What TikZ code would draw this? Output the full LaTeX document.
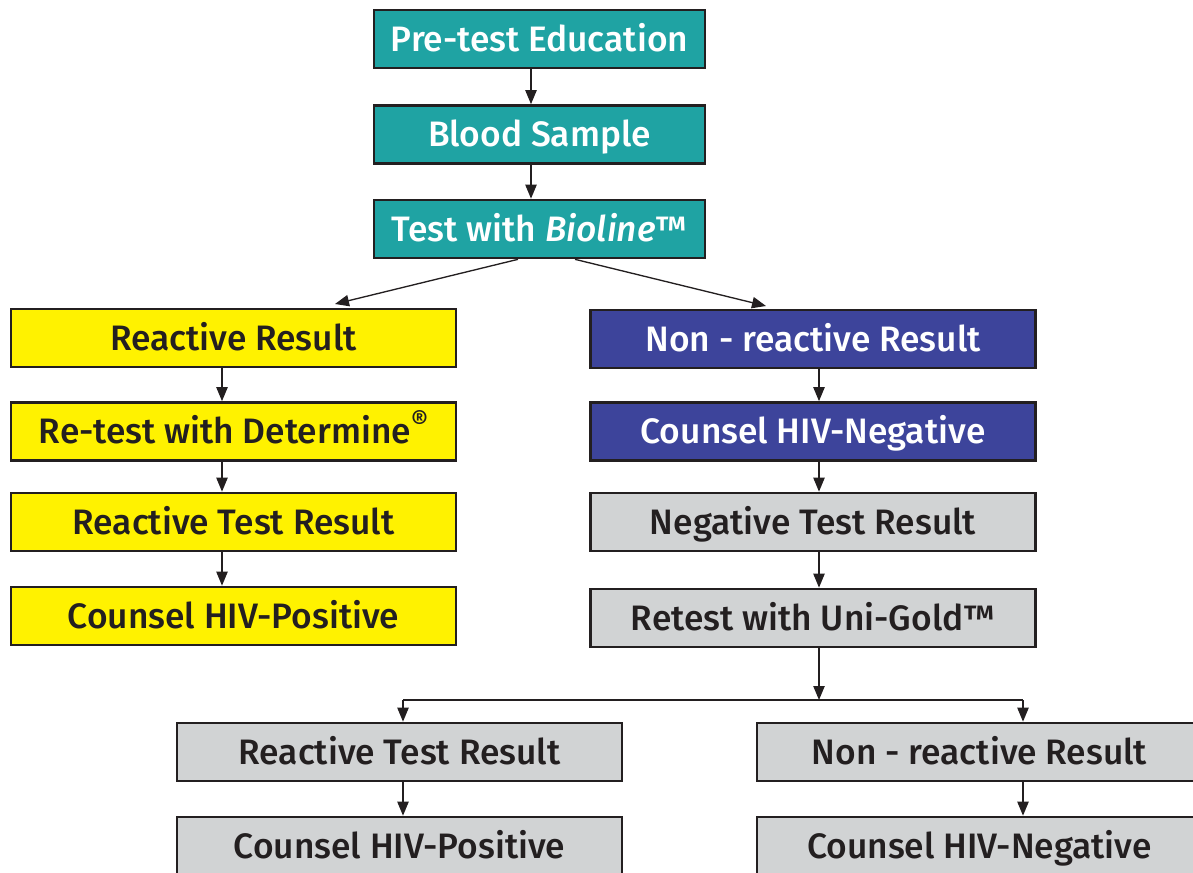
\documentclass[tikz,border=0pt]{standalone}
\usepackage{fontspec}
\setmainfont{Fira Sans}[UprightFont=* Medium, ItalicFont=* Medium Italic]
\usepackage{graphicx}
\usetikzlibrary{calc,arrows.meta}
\definecolor{teal1}{RGB}{31,163,163}
\definecolor{yel}{RGB}{255,242,0}
\definecolor{blu}{RGB}{61,68,155}
\definecolor{gry}{RGB}{209,211,212}
\definecolor{ink}{RGB}{35,31,32}
\tikzset{
  box/.style={draw=ink, line width=2pt, inner sep=0pt, font=\fontsize{26.5}{30}\selectfont, minimum height=43.5pt, text height=18.3pt, text depth=0pt},
  topbox/.style={box, fill=teal1, text=white, minimum width=248.25pt},
  yelbox/.style={box, fill=yel, text=ink, minimum width=333.75pt},
  blubox/.style={box, fill=blu, text=white, minimum width=333.75pt},
  grybox/.style={box, fill=gry, text=ink, minimum width=333.75pt},
  arr/.style={draw=ink, line width=1pt, -{Triangle[length=10.5pt,width=8.5pt]}},
  ln/.style={draw=ink, line width=1pt}
}
\begin{document}
\begin{tikzpicture}[x=0.75pt,y=-0.75pt]
\useasboundingbox (0,0) rectangle (1193,873);
\node[topbox] (pre) at (539.5,39) {Pre-test Education};
\node[topbox] (blood) at (539.5,134.5) {Blood Sample};
\node[topbox] (bio) at (539.5,229) {Test with \textit{Bioline}™};
\node[yelbox] (r1) at (233.5,338) {Reactive Result};
\node[yelbox] (r2) at (233.5,431.5) {Re-test with Determine\raisebox{0.7ex}{\scalebox{0.75}{®}}};
\node[yelbox] (r3) at (233.5,522) {Reactive Test Result};
\node[yelbox] (r4) at (233.5,616) {Counsel HIV-Positive};
\node[blubox] (n1) at (813,339) {Non - reactive Result};
\node[blubox] (n2) at (813,431.5) {Counsel HIV-Negative};
\node[grybox] (n3) at (813,522) {Negative Test Result};
\node[grybox] (n4) at (813,618) {Retest with Uni-Gold™};
\node[grybox] (b1) at (399.5,752) {Reactive Test Result};
\node[grybox] (b2) at (399.5,846) {Counsel HIV-Positive};
\node[grybox] (b3) at (979.5,752) {Non - reactive Result};
\node[grybox] (b4) at (979.5,846) {Counsel HIV-Negative};
% top column
\draw[arr] ($(pre.south)+(-8.5,0)$) -- ($(blood.north)+(-8.5,0)$);
\draw[arr] ($(blood.south)+(-8.5,0)$) -- ($(bio.north)+(-8.5,0)$);
% diagonals
\coordinate (tl) at (335,304);
\coordinate (tr) at (766,306);
\draw[arr] ($(bio.south)+(-21.5,0)$) -- (tl);
\draw[arr] ($(bio.south)+(35.5,0)$) -- (tr);
% left column
\draw[arr] ($(r1.south)+(-11.5,0)$) -- ($(r2.north)+(-11.5,0)$);
\draw[arr] ($(r2.south)+(-11.5,0)$) -- ($(r3.north)+(-11.5,0)$);
\draw[arr] ($(r3.south)+(-11.5,0)$) -- ($(r4.north)+(-11.5,0)$);
% right column
\draw[arr] ($(n1.south)+(6,0)$) -- ($(n2.north)+(6,0)$);
\draw[arr] ($(n2.south)+(6,0)$) -- ($(n3.north)+(6,0)$);
\draw[arr] ($(n3.south)+(6,0)$) -- ($(n4.north)+(6,0)$);
% split
\coordinate (sp) at (819,700);
\coordinate (sl) at (403,700);
\coordinate (sr) at (1023,700);
\draw[arr] ($(n4.south)+(6,0)$) -- (sp);
\draw[ln] (sl) -- (sr);
\draw[arr] (sl) -- (sl |- b1.north);
\draw[arr] (sr) -- (sr |- b3.north);
\draw[arr] ($(b1.south)+(3.5,0)$) -- ($(b2.north)+(3.5,0)$);
\draw[arr] ($(b3.south)+(43.5,0)$) -- ($(b4.north)+(43.5,0)$);
\end{tikzpicture}
\end{document}
